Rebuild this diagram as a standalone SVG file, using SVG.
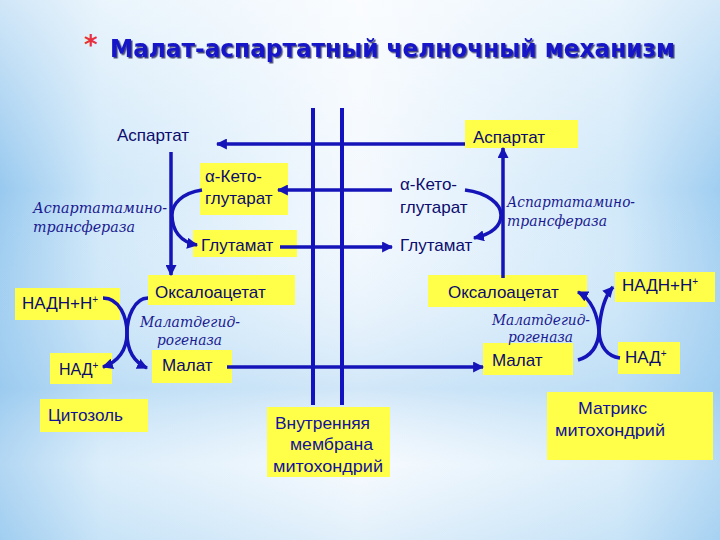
<svg xmlns="http://www.w3.org/2000/svg" width="720" height="540" viewBox="0 0 720 540">
<defs>
<linearGradient id="bgH" x1="0" y1="0" x2="1" y2="0">
<stop offset="0" stop-color="#98c9ef"/>
<stop offset="0.14" stop-color="#d0e8f9"/>
<stop offset="0.5" stop-color="#f4f9fe"/>
<stop offset="0.86" stop-color="#d0e8f9"/>
<stop offset="1" stop-color="#a0cef1"/>
</linearGradient>
<linearGradient id="bgV" x1="0" y1="0" x2="0" y2="1">
<stop offset="0" stop-color="#ffffff" stop-opacity="0.55"/>
<stop offset="0.35" stop-color="#ffffff" stop-opacity="0"/>
<stop offset="0.72" stop-color="#9fcdf0" stop-opacity="0.4"/>
<stop offset="0.86" stop-color="#ffffff" stop-opacity="0.25"/>
<stop offset="1" stop-color="#b5d9f3" stop-opacity="0.3"/>
</linearGradient>
<filter id="shadow" x="-5%" y="-30%" width="110%" height="160%">
<feDropShadow dx="1.5" dy="1.5" stdDeviation="0.6" flood-color="#000040" flood-opacity="0.7"/>
</filter>
<marker id="ah" viewBox="0 0 10 10" refX="9" refY="5" markerWidth="11" markerHeight="11" markerUnits="userSpaceOnUse" orient="auto">
<path d="M0,0 L10,5 L0,10 z" fill="#1414b8"/>
</marker>
<style>
.box{fill:#ffff4a;}
.t{font-family:"Liberation Sans",Arial,sans-serif;font-size:17px;fill:#0c0c6e;}
.s{font-size:16px;}
.e{font-family:"DejaVu Serif","Liberation Serif",serif;font-style:italic;font-size:14px;fill:#1a1a90;}
.b{font-family:"Liberation Sans",Arial,sans-serif;font-size:17px;fill:#12129a;}
.mem{stroke:#1212c0;stroke-width:4;fill:none;}
.arr{stroke:#1414b8;stroke-width:3.5;fill:none;marker-end:url(#ah);}
.sup{font-size:10px;}
</style>
</defs>
<rect width="720" height="540" fill="url(#bgH)"/>
<rect width="720" height="540" fill="url(#bgV)"/>

<g id="title">
<text x="84" y="54" font-family="DejaVu Sans,sans-serif" font-weight="bold" font-size="26" fill="#e8303c">*</text>
<text x="110" y="57" font-family="DejaVu Sans,sans-serif" font-weight="bold" font-size="25" fill="#1414c8" textLength="565" lengthAdjust="spacingAndGlyphs" filter="url(#shadow)">Малат-аспартатный челночный механизм</text>
</g>

<g id="membrane-lines">
<line class="mem" x1="313" y1="108" x2="313" y2="405"/>
<line class="mem" x1="342" y1="108" x2="342" y2="405"/>
</g>

<g id="aspartate-left"><text class="t" x="117" y="141">Аспартат</text></g>
<g id="aspartate-right"><rect class="box" x="465" y="120" width="113" height="28"/><text class="t" x="473" y="143">Аспартат</text></g>

<g id="aketo-left"><rect class="box" x="200" y="163" width="88" height="52"/><text class="t" x="205" y="182">α-Кето-</text><text class="t" x="205" y="204">глутарат</text></g>
<g id="glutamate-left"><rect class="box" x="193" y="230" width="104" height="27"/><text class="t" x="201" y="251">Глутамат</text></g>
<g id="aketo-right"><text class="t" x="400" y="190">α-Кето-</text><text class="t" x="400" y="213">глутарат</text></g>
<g id="glutamate-right"><text class="t" x="400" y="251">Глутамат</text></g>

<g id="enzyme-ast-left"><text class="e" x="33" y="213" textLength="134" lengthAdjust="spacingAndGlyphs">Аспартатамино-</text><text class="e" x="33" y="232" textLength="102" lengthAdjust="spacingAndGlyphs">трансфераза</text></g>
<g id="enzyme-ast-right"><text class="e" x="507" y="207" textLength="128" lengthAdjust="spacingAndGlyphs">Аспартатамино-</text><text class="e" x="507" y="226" textLength="100" lengthAdjust="spacingAndGlyphs">трансфераза</text></g>

<g id="oxalo-left"><rect class="box" x="148" y="275" width="147" height="30"/><text class="t" x="155" y="298">Оксалоацетат</text></g>
<g id="nadh-left"><rect class="box" x="15" y="288" width="105" height="32"/><text class="t" x="22" y="309">НАДН+Н<tspan class="sup" dy="-6">+</tspan></text></g>
<g id="nad-left"><rect class="box" x="50" y="353" width="62" height="31"/><text class="t s" x="59" y="375">НАД<tspan class="sup" dy="-6">+</tspan></text></g>
<g id="malate-left"><rect class="box" x="152" y="350" width="80" height="33"/><text class="t" x="162" y="371">Малат</text></g>
<g id="enzyme-mdh-left"><text class="e" x="140" y="327" textLength="100" lengthAdjust="spacingAndGlyphs">Малатдегид-</text><text class="e" x="157" y="345" textLength="65" lengthAdjust="spacingAndGlyphs">рогеназа</text></g>

<g id="oxalo-right"><rect class="box" x="428" y="275" width="159" height="32"/><text class="t" x="448" y="298">Оксалоацетат</text></g>
<g id="nadh-right"><rect class="box" x="615" y="272" width="100" height="30"/><text class="t" x="622" y="291">НАДН+Н<tspan class="sup" dy="-6">+</tspan></text></g>
<g id="nad-right"><rect class="box" x="618" y="342" width="62" height="32"/><text class="t" x="625" y="363">НАД<tspan class="sup" dy="-6">+</tspan></text></g>
<g id="malate-right"><rect class="box" x="483" y="343" width="90" height="32"/><text class="t" x="492" y="366">Малат</text></g>
<g id="enzyme-mdh-right"><text class="e" x="492" y="325" textLength="98" lengthAdjust="spacingAndGlyphs">Малатдегид-</text><text class="e" x="508" y="342" textLength="65" lengthAdjust="spacingAndGlyphs">рогеназа</text></g>

<g id="cytosol"><rect class="box" x="40" y="399" width="108" height="33"/><text class="b" x="48" y="421" textLength="75" lengthAdjust="spacingAndGlyphs">Цитозоль</text></g>
<g id="membrane-label"><rect class="box" x="267" y="407" width="123" height="70"/><text class="b" x="275" y="429" textLength="95" lengthAdjust="spacingAndGlyphs">Внутренняя</text><text class="b" x="290" y="450" textLength="83" lengthAdjust="spacingAndGlyphs">мембрана</text><text class="b" x="273" y="472" textLength="110" lengthAdjust="spacingAndGlyphs">митохондрий</text></g>
<g id="matrix"><rect class="box" x="547" y="392" width="166" height="68"/><text class="b" x="578" y="414" textLength="69" lengthAdjust="spacingAndGlyphs">Матрикс</text><text class="b" x="555" y="436" textLength="110" lengthAdjust="spacingAndGlyphs">митохондрий</text></g>

<g id="connectors">
<line class="arr" x1="465" y1="144" x2="217" y2="144"/>
<line class="arr" x1="171" y1="152" x2="171" y2="275"/>
<line class="arr" x1="503" y1="278" x2="503" y2="148"/>
<line class="arr" x1="392" y1="190" x2="278" y2="190"/>
<line class="arr" x1="280" y1="247" x2="392" y2="247"/>
<line class="arr" x1="227" y1="367" x2="483" y2="367"/>
<path class="arr" d="M202,190 C182,193 172,204 172,215 C172,230 180,242 197,245"/>
<path class="arr" d="M465,190 C488,193 501,204 501,215 C501,227 492,234 474,238"/>
<path class="arr" d="M103,298 C120,298 127,318 127,333 C127,350 134,362 147,368"/>
<path class="arr" d="M148,298 C134,298 127,318 127,333 C127,350 118,362 103,367"/>
<path class="arr" d="M578,360 C592,356 598,345 599,332 C600,316 603,298 613,287"/>
<path class="arr" d="M620,358 C606,356 600,345 599,332 C598,316 592,299 578,292"/>
</g>
</svg>
